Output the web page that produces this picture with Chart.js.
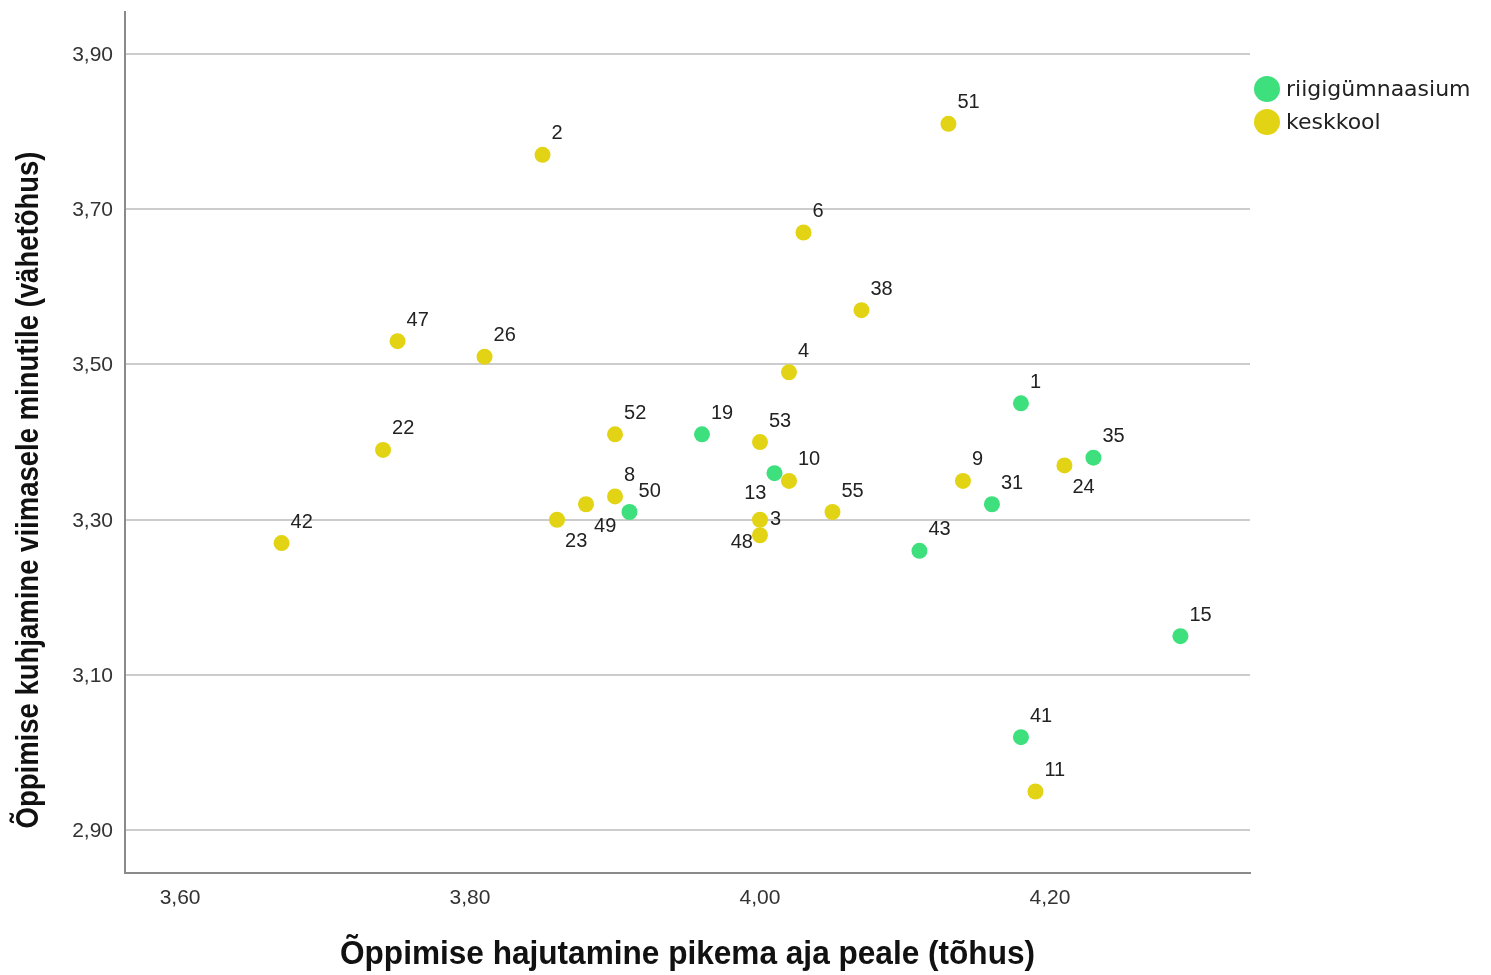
<!DOCTYPE html>
<html>
<head>
<meta charset="utf-8">
<script src="https://cdn.jsdelivr.net/npm/chart.js@4.4.1/dist/chart.umd.min.js"></script>
<style>
  html, body { margin: 0; padding: 0; background: #fff; }
  #wrap { width: 1491px; height: 975px; }
</style>
</head>
<body>
<div id="wrap"><canvas id="grafico" width="1491" height="975"></canvas></div>
<script>
// andmed: riigigümnaasium
const riigiNr = ['1', '19', '13', '35', '31', '50', '43', '15', '41'];
const riigiX = [4.18, 3.96, 4.01, 4.23, 4.16, 3.91, 4.11, 4.29, 4.18];
const riigiY = [3.45, 3.41, 3.36, 3.38, 3.32, 3.31, 3.26, 3.15, 3.02];

// andmed: keskkool
const keskNr = ['51', '2', '6', '38', '47', '26', '4', '52', '53', '22', '24', '10', '9', '8', '49', '55', '23', '3', '48', '42', '11'];
const keskX = [4.13, 3.85, 4.03, 4.07, 3.75, 3.81, 4.02, 3.90, 4.00, 3.74, 4.21, 4.02, 4.14, 3.90, 3.88, 4.05, 3.86, 4.00, 4.00, 3.67, 4.19];
const keskY = [3.81, 3.77, 3.67, 3.57, 3.53, 3.51, 3.49, 3.41, 3.40, 3.39, 3.37, 3.35, 3.35, 3.33, 3.32, 3.31, 3.30, 3.30, 3.28, 3.27, 2.95];

const xTicks = [3.60, 3.80, 4.00, 4.20];
const yTicks = [2.90, 3.10, 3.30, 3.50, 3.70, 3.90];

const grupid = ['riigigümnaasium', 'keskkool'];
const varvid = ['#3de07c', '#e2d414'];

const xPealkiri = 'Õppimise hajutamine pikema aja peale (tõhus)';
const yPealkiri = 'Õppimise kuhjamine viimasele minutile (vähetõhus)';

// sildi asukoht punkti suhtes (vaikimisi üleval paremal)
const sildiSuund = { '23': 'dr', '49': 'dr', '13': 'dl', '48': 'l', '3': 'r', '24': 'dr' };

const koma = v => v.toFixed(2).replace('.', ',');

const punktid = (xs, ys, nr) => xs.map((x, i) => ({ x: x, y: ys[i], nr: nr[i] }));

const FONT = '"Liberation Sans", Arial, sans-serif';

// kitsendatud tekst (pealkirjad on kitsad ja kõrged)
function kitsasTekst(ctx, tekst, x, y, font, laius, nurk) {
    ctx.save();
    ctx.font = font;
    const loomulik = ctx.measureText(tekst).width;
    ctx.translate(x, y);
    ctx.rotate(nurk || 0);
    ctx.scale(laius / loomulik, 1);
    ctx.textAlign = 'center';
    ctx.textBaseline = 'middle';
    ctx.fillText(tekst, 0, 0);
    ctx.restore();
}

// telgede tekstid
const teljed = {
    id: 'teljed',
    afterDraw(chart) {
        const ctx = chart.ctx;
        const xs = chart.scales.x, ys = chart.scales.y;
        ctx.save();
        ctx.fillStyle = '#333';
        ctx.font = '21px ' + FONT;
        ctx.textBaseline = 'middle';
        ctx.textAlign = 'right';
        yTicks.forEach(v => ctx.fillText(koma(v), 113, ys.getPixelForValue(v) + 1));
        ctx.textAlign = 'center';
        xTicks.forEach(v => ctx.fillText(koma(v), xs.getPixelForValue(v), 898));
        ctx.fillStyle = '#111';
        kitsasTekst(ctx, xPealkiri, (chart.chartArea.left + chart.chartArea.right) / 2, 955, 'bold 34px ' + FONT, 695, 0);
        kitsasTekst(ctx, yPealkiri, 29, 490, 'bold 31px ' + FONT, 677, -Math.PI / 2);
        ctx.restore();
    }
};

// punktide numbrid
const sildid = {
    id: 'sildid',
    afterDatasetsDraw(chart) {
        const ctx = chart.ctx;
        ctx.save();
        ctx.font = '20px ' + FONT;
        ctx.fillStyle = '#222';
        ctx.textBaseline = 'middle';
        chart.data.datasets.forEach((ds, di) => {
            chart.getDatasetMeta(di).data.forEach((el, i) => {
                const nr = ds.data[i].nr;
                const suund = sildiSuund[nr] || 'ur';
                let dx = 9, dy = -21;
                ctx.textAlign = 'left';
                if (suund === 'dr') { dx = 8; dy = 22; }
                if (suund === 'dl') { dx = -8; dy = 20; ctx.textAlign = 'right'; }
                if (suund === 'l') { dx = -7; dy = 7; ctx.textAlign = 'right'; }
                if (suund === 'r') { dx = 10; dy = 0; }
                ctx.fillText(nr, el.x + dx, el.y + dy);
            });
        });
        ctx.restore();
    }
};

// legend paremal üleval
const legend = {
    id: 'legendPaneel',
    afterDraw(chart) {
        const ctx = chart.ctx;
        ctx.save();
        ctx.font = '22px "DejaVu Sans", sans-serif';
        ctx.textBaseline = 'middle';
        grupid.forEach((g, i) => {
            const y = 89 + i * 33;
            ctx.fillStyle = varvid[i];
            ctx.beginPath();
            ctx.arc(1267, y, 13, 0, Math.PI * 2);
            ctx.fill();
            ctx.fillStyle = '#222';
            ctx.fillText(g, 1286, y + 1);
        });
        ctx.restore();
    }
};

new Chart(document.getElementById('grafico'), {
    type: 'scatter',
    data: {
        datasets: [
            { label: grupid[0], data: punktid(riigiX, riigiY, riigiNr), backgroundColor: varvid[0], borderWidth: 0, pointRadius: 8 },
            { label: grupid[1], data: punktid(keskX, keskY, keskNr), backgroundColor: varvid[1], borderWidth: 0, pointRadius: 8 }
        ]
    },
    options: {
        responsive: false,
        animation: false,
        layout: { padding: { top: 12, right: 241, left: 0, bottom: 0 } },
        plugins: { legend: { display: false }, tooltip: { enabled: false } },
        scales: {
            x: {
                type: 'linear',
                min: 3.562,
                max: 4.338,
                afterBuildTicks: s => { s.ticks = xTicks.map(v => ({ value: v })); },
                afterFit: s => { s.height = 102; },
                grid: { display: false, drawTicks: false },
                border: { color: '#8a8a8a', width: 2 },
                ticks: { display: false }
            },
            y: {
                type: 'linear',
                min: 2.845,
                max: 3.954,
                afterBuildTicks: s => { s.ticks = yTicks.map(v => ({ value: v })); },
                afterFit: s => { s.width = 125; },
                grid: { color: '#cccccc', lineWidth: 2, drawTicks: false },
                border: { color: '#8a8a8a', width: 2 },
                ticks: { display: false }
            }
        }
    },
    plugins: [sildid, legend, teljed]
});
</script>
</body>
</html>
